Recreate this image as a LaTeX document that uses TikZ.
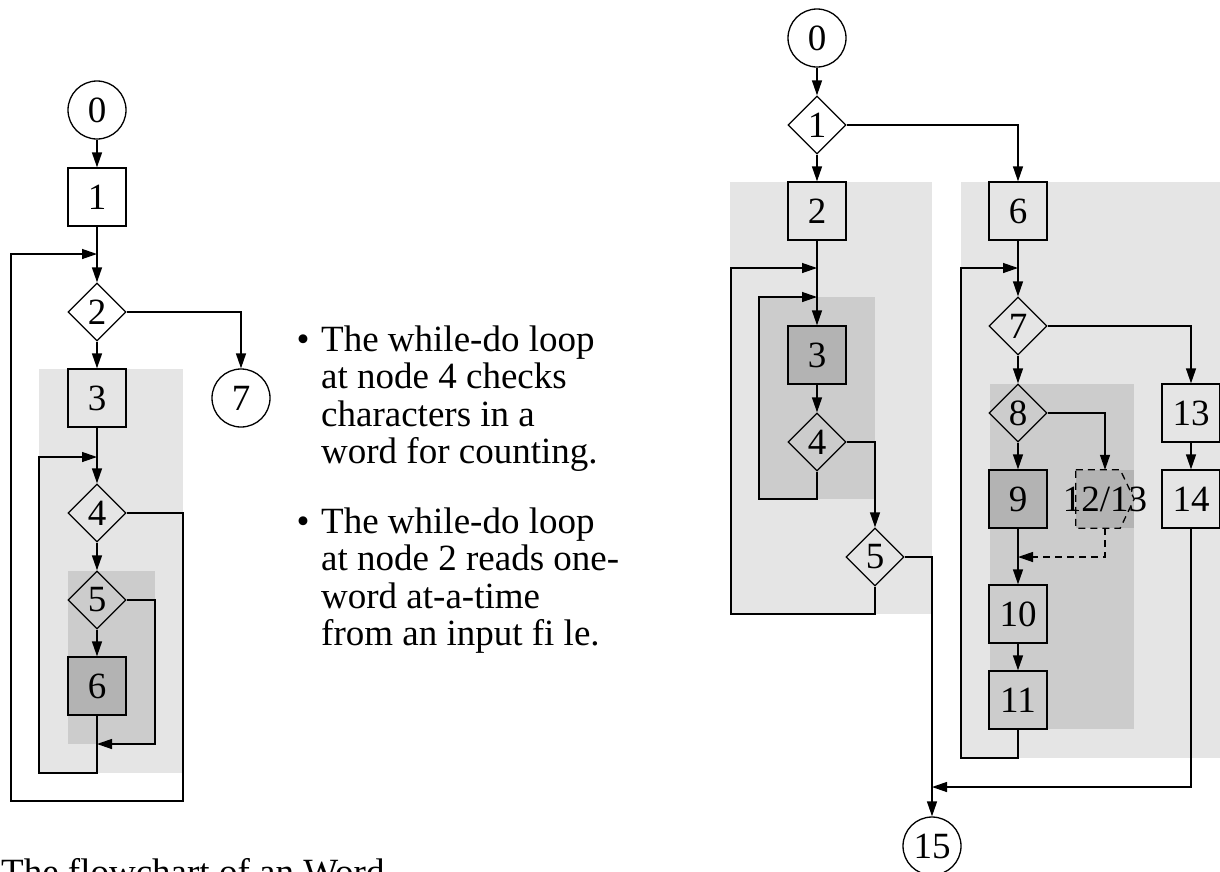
\documentclass[tikz,border=0pt]{standalone}
\usepackage{fontspec}
\setmainfont{Liberation Serif}
\usetikzlibrary{arrows.meta,shapes.geometric}
\definecolor{lightg}{HTML}{E5E5E5}
\definecolor{midg}{HTML}{CCCCCC}
\definecolor{darkg}{HTML}{B3B3B3}
\begin{document}
\begin{tikzpicture}[x=1pt,y=-1pt,
  every node/.style={font=\fontsize{37}{37.5}\selectfont, inner sep=0pt},
  circ/.style={circle, draw, line width=1.3pt, minimum size=58pt},
  boxn/.style={rectangle, draw, line width=1.3pt, minimum size=58pt},
  dia/.style={diamond, draw, line width=1.3pt, minimum width=58pt, minimum height=58pt},
  dk/.style={fill=darkg},
  arr/.style={line width=1.3pt, -{Triangle[length=15pt,width=10pt]}},
  ln/.style={line width=1.3pt},
  txt/.style={align=left, anchor=base west}
]
\useasboundingbox (0,0) rectangle (1220,871);
\clip (0,0) rectangle (1220,871);
\fill[white] (0,0) rectangle (1220,871);

% ---------- background regions ----------
\fill[lightg] (39,369) rectangle (183,773);
\fill[midg] (68,571) rectangle (155,744);
\fill[lightg] (730,182) rectangle (932,614);
\fill[midg] (759,297) rectangle (875,499);
\fill[lightg] (961,182) rectangle (1220,758);
\fill[midg] (990,384) rectangle (1134,729);

% ---------- left flowchart ----------
\node[circ, fill=white] (L0) at (97,110) {0};
\node[boxn, fill=white] (L1) at (97,197) {1};
\node[dia, fill=white] (L2) at (97,312) {2};
\node[circ, fill=white] (L7) at (241,398) {7};
\node[boxn] (L3) at (97,398) {3};
\node[dia] (L4) at (97,513) {4};
\node[dia] (L5) at (97,600) {5};
\node[boxn, dk] (L6) at (97,686) {6};
\coordinate (Lj2) at (97,254);
\coordinate (Lj4) at (97,457);
\coordinate (Lj6) at (97,744);

\draw[arr] (L0) -- (L1);
\draw[arr] (L1) -- (L2);
\draw[arr] (L2) -- (L3);
\draw[arr] (L2.east) -| (L7.north);
\draw[arr] (L3) -- (L4);
\draw[arr] (L4) -- (L5);
\draw[arr] (L5) -- (L6);
\draw[arr] (L5.east) -| (155,744) -- (Lj6);
\draw[arr] (L6.south) |- (39,773) |- (Lj4);
\draw[arr] (L4.east) -| (183,801) -| (11,254) -- (Lj2);

% ---------- bullet text ----------
\node[anchor=base] (bu1) at (303,351) {•};
\node[txt] (t1) at (321,463.5) {The while-do loop\\at node 4 checks\\characters in a\\word for counting.};
\node[anchor=base] (bu2) at (303,533) {•};
\node[txt] (t2) at (321,645.5) {The while-do loop\\at node 2 reads one-\\word at-a-time\\from an input fi le.};
\node[anchor=base west] (cap) at (1,884) {The flowchart of an Word};

% ---------- right flowchart ----------
\node[circ, fill=white] (R0) at (817,38) {0};
\node[dia, fill=white] (R1) at (817,125) {1};
\node[boxn] (R2) at (817,211) {2};
\node[boxn, dk] (R3) at (817,355) {3};
\node[dia] (R4) at (817,442) {4};
\node[dia] (R5) at (875,557) {5};
\node[circ, fill=white] (R15) at (932,846) {15};
\node[boxn] (R6) at (1018,211) {6};
\node[dia] (R7) at (1018,326) {7};
\node[dia] (R8) at (1018,413) {8};
\node[boxn, dk] (R9) at (1018,499) {9};
\node[minimum size=58pt, fill=darkg] (R1213) at (1105,499) {\makebox[0pt]{12/13}};
\draw[ln, dashed, dash pattern=on 7pt off 5pt] (R1213.north west) -- ([xshift=-14pt]R1213.north east) -- (R1213.east) -- ([xshift=-14pt]R1213.south east) -- (R1213.south west) -- cycle;
\node[boxn] (R10) at (1018,614) {10};
\node[boxn] (R11) at (1018,700) {11};
\node[boxn] (R13) at (1191,413) {13};
\node[boxn] (R14) at (1191,499) {14};
\coordinate (Rj3a) at (817,268);
\coordinate (Rj3b) at (817,297);
\coordinate (Rj7) at (1018,268);
\coordinate (Rj10) at (1018,557);
\coordinate (Rj15) at (932,787);

\draw[arr] (R0) -- (R1);
\draw[arr] (R1) -- (R2);
\draw[arr] (R1.east) -| (R6.north);
\draw[arr] (R2) -- (R3);
\draw[arr] (R3) -- (R4);
\draw[arr] (R4.south) |- (759,499) |- (Rj3b);
\draw[arr] (R4.east) -| (R5.north);
\draw[arr] (R5.south) |- (731,614) |- (Rj3a);
\draw[arr] (R5.east) -| (R15.north);
\draw[arr] (R14.south) |- (Rj15);
\draw[arr] (R6) -- (R7);
\draw[arr] (R7) -- (R8);
\draw[arr] (R7.east) -| (R13.north);
\draw[arr] (R13) -- (R14);
\draw[arr] (R8) -- (R9);
\draw[arr] (R8.east) -| (R1213.north);
\draw[arr] (R9) -- (R10);
\draw[arr, dashed, dash pattern=on 7pt off 5pt] (R1213.south) |- (Rj10);
\draw[arr] (R10) -- (R11);
\draw[arr] (R11.south) |- (961,758) |- (Rj7);
\end{tikzpicture}
\end{document}
